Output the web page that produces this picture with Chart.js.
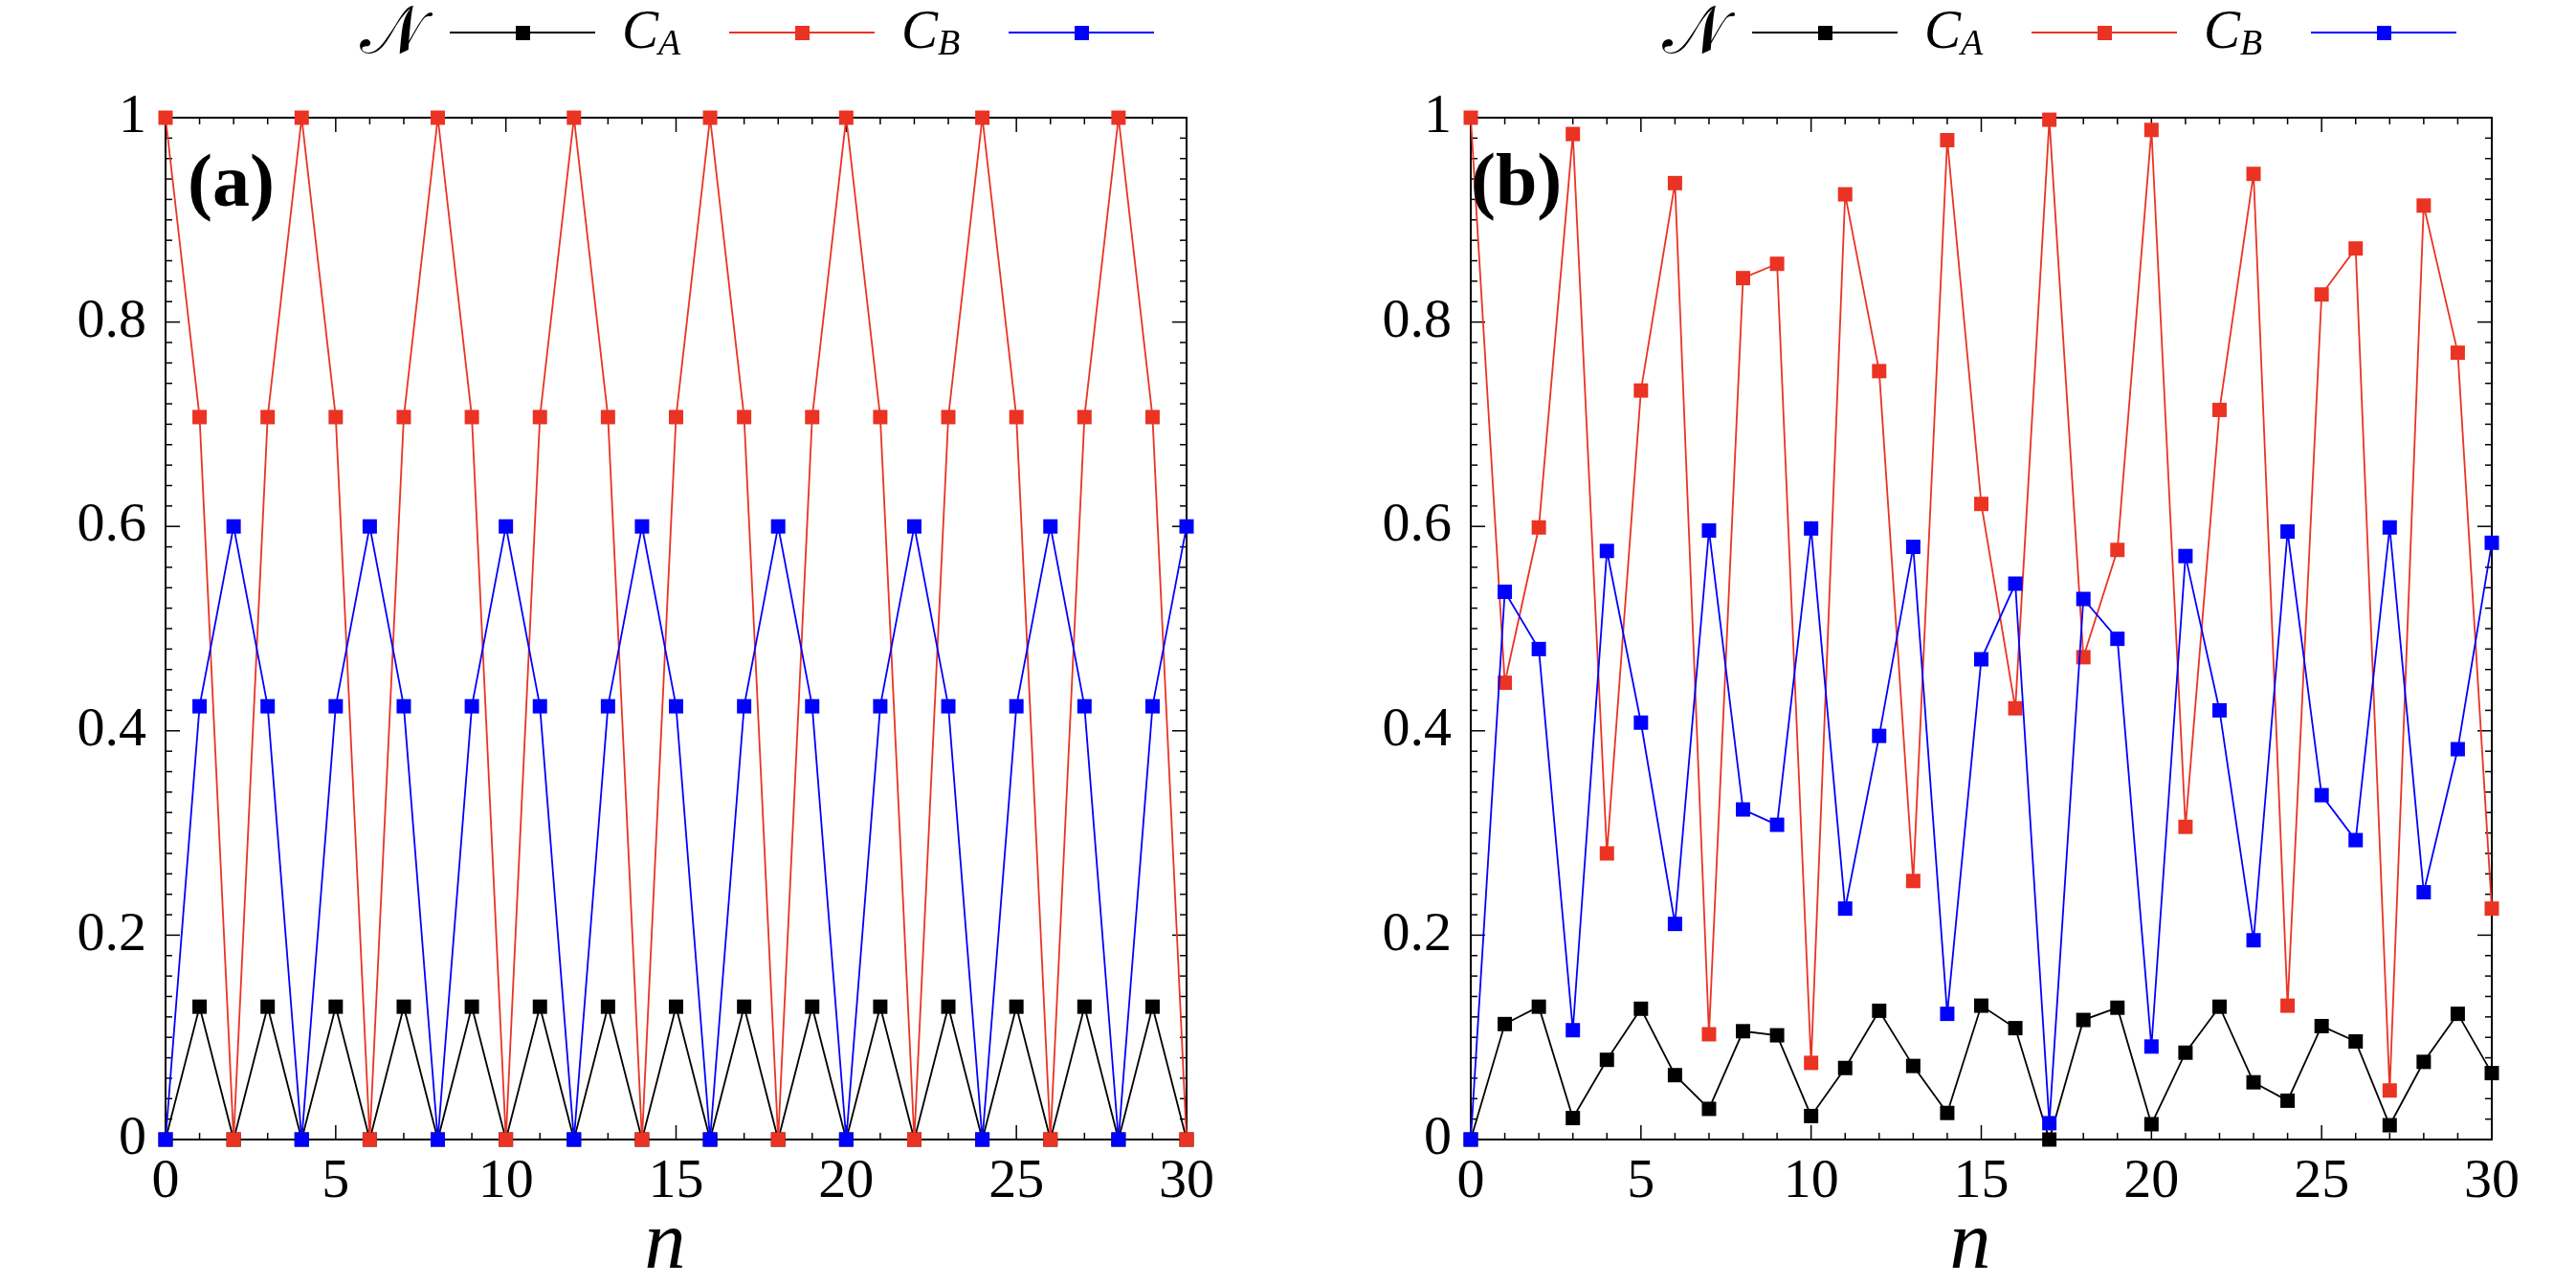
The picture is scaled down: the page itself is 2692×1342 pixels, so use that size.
<!DOCTYPE html>
<html>
<head>
<meta charset="utf-8">
<script src="https://cdn.jsdelivr.net/npm/chart.js@4.4.1/dist/chart.umd.min.js"></script>
<style>
  body { margin: 0; background: #fff; }
  #page { position: relative; width: 2692px; height: 1342px; overflow: hidden;
          font-family: "Liberation Serif", "DejaVu Serif", serif; }
  canvas { position: absolute; top: 0; }
  .txt { position: absolute; white-space: nowrap; line-height: 1; color: #000; }
  .lg { font-style: italic; font-size: 57px; }
  .lg .sub { font-size: 38px; vertical-align: -7px; }
  .cal { font-family: "DejaVu Serif", "DejaVu Sans", "Noto Sans", serif; font-style: normal; font-size: 70px; }
  .seg { position: absolute; height: 2px; }
  .mk { position: absolute; width: 15px; height: 15px; }
  .panel { font-weight: bold; font-size: 78px; }
  .xt { font-style: italic; font-size: 86px; transform: translateX(-50%); }
</style>
</head>
<body>
<div id="page">
  <canvas id="chartA" width="1346" height="1342" style="left:0"></canvas>
  <canvas id="chartB" width="1346" height="1342" style="left:1346px"></canvas>
</div>
<script>
// === Données
const nValues = [0, 1, 2, 3, 4, 5, 6, 7, 8, 9, 10, 11, 12, 13, 14, 15, 16, 17, 18, 19, 20, 21, 22, 23, 24, 25, 26, 27, 28, 29, 30];
const xTicks = [0, 5, 10, 15, 20, 25, 30];
const yTicks = [0, 0.2, 0.4, 0.6, 0.8, 1];

// panel (a)
const negA = [0, 0.13, 0, 0.13, 0, 0.13, 0, 0.13, 0, 0.13, 0, 0.13, 0, 0.13, 0, 0.13, 0, 0.13, 0, 0.13, 0, 0.13, 0, 0.13, 0, 0.13, 0, 0.13, 0, 0.13, 0];
const caA = [1, 0.707, 0, 0.707, 1, 0.707, 0, 0.707, 1, 0.707, 0, 0.707, 1, 0.707, 0, 0.707, 1, 0.707, 0, 0.707, 1, 0.707, 0, 0.707, 1, 0.707, 0, 0.707, 1, 0.707, 0];
const cbA = [0, 0.424, 0.6, 0.424, 0, 0.424, 0.6, 0.424, 0, 0.424, 0.6, 0.424, 0, 0.424, 0.6, 0.424, 0, 0.424, 0.6, 0.424, 0, 0.424, 0.6, 0.424, 0, 0.424, 0.6, 0.424, 0, 0.424, 0.6];

// panel (b)
const negB = [0, 0.113, 0.130, 0.021, 0.078, 0.128, 0.063, 0.030, 0.106, 0.102, 0.023, 0.070, 0.126, 0.072, 0.026, 0.131, 0.109, 0.000, 0.117, 0.129, 0.015, 0.085, 0.130, 0.056, 0.038, 0.111, 0.096, 0.014, 0.076, 0.123, 0.065];
const caB = [1.0, 0.447, 0.599, 0.984, 0.280, 0.733, 0.936, 0.103, 0.843, 0.857, 0.075, 0.925, 0.752, 0.253, 0.978, 0.622, 0.422, 0.998, 0.472, 0.577, 0.988, 0.306, 0.714, 0.945, 0.131, 0.827, 0.872, 0.048, 0.914, 0.770, 0.226];
const cbB = [0, 0.536, 0.480, 0.107, 0.576, 0.408, 0.211, 0.596, 0.323, 0.308, 0.598, 0.226, 0.395, 0.580, 0.123, 0.470, 0.544, 0.016, 0.529, 0.490, 0.091, 0.571, 0.420, 0.195, 0.595, 0.337, 0.293, 0.599, 0.242, 0.382, 0.584];

const BLACK = "#000000";
const RED = "#ea3323";
const BLUE = "#0000ff";
const FONT = "'Liberation Serif', 'DejaVu Serif', serif";

// cadre + graduations vers l'intérieur
const frameTicks = {
  id: "frameTicks",
  beforeDatasetsDraw(chart) {
    const { ctx, chartArea: a, scales } = chart;
    const line = (x1, y1, x2, y2) => { ctx.beginPath(); ctx.moveTo(x1, y1); ctx.lineTo(x2, y2); ctx.stroke(); };
    ctx.save();
    ctx.strokeStyle = "#000";
    ctx.lineWidth = 1.5;
    for (let i = 0; i <= 30; i++) {
      const px = scales.x.getPixelForValue(i);
      const len = i % 5 === 0 ? 15 : 7;
      line(px, a.bottom, px, a.bottom - len);
      line(px, a.top, px, a.top + len);
    }
    for (let k = 0; k <= 50; k++) {
      const py = scales.y.getPixelForValue(k / 50);
      const len = k % 10 === 0 ? 15 : 7;
      line(a.left, py, a.left + len, py);
      line(a.right, py, a.right - len, py);
    }
    ctx.lineWidth = 2;
    ctx.strokeRect(a.left, a.top, a.right - a.left, a.bottom - a.top);
    ctx.restore();
  }
};

function serie(vals, color) {
  return {
    data: vals.map((v, i) => ({ x: nValues[i], y: v })),
    borderColor: color,
    backgroundColor: color,
    borderWidth: 1.8,
    pointStyle: "rect",
    pointRadius: 10.6,
    pointBorderWidth: 0,
    clip: false,
    tension: 0
  };
}

function makeChart(id, neg, ca, cb, yWidth, padRight) {
  new Chart(document.getElementById(id).getContext("2d"), {
    type: "line",
    data: { datasets: [serie(cb, BLUE), serie(ca, RED), serie(neg, BLACK)] },
    options: {
      responsive: false,
      animation: false,
      layout: { padding: { top: 123, right: padRight, bottom: 0, left: 0 } },
      plugins: { legend: { display: false }, tooltip: { enabled: false } },
      scales: {
        x: {
          type: "linear", min: 0, max: 30,
          grid: { display: false, drawTicks: false },
          border: { display: false },
          ticks: { autoSkip: false, maxRotation: 0, padding: 10, color: "#000",
                   font: { family: FONT, size: 58 } },
          afterBuildTicks: s => { s.ticks = xTicks.map(v => ({ value: v })); },
          afterFit: s => { s.height = 151; }
        },
        y: {
          min: 0, max: 1,
          grid: { display: false, drawTicks: false },
          border: { display: false },
          ticks: { autoSkip: false, padding: 20, color: "#000",
                   font: { family: FONT, size: 58 }, callback: v => String(v) },
          afterBuildTicks: s => { s.ticks = yTicks.map(v => ({ value: v })); },
          afterFit: s => { s.width = yWidth; }
        }
      }
    },
    plugins: [frameTicks]
  });
}

makeChart("chartA", negA, caA, cbA, 173, 106);
makeChart("chartB", negB, caB, cbB, 191, 88);

// === Légende, étiquettes et titres (texte HTML)
const page = document.getElementById("page");
function addText(html, cls, left, top) {
  const el = document.createElement("div");
  el.className = "txt " + cls;
  el.innerHTML = html;
  el.style.left = left + "px";
  el.style.top = top + "px";
  page.appendChild(el);
}
function addSample(left, color) {
  const seg = document.createElement("div");
  seg.className = "seg";
  seg.style.cssText = `left:${left}px;top:33px;width:152px;background:${color}`;
  page.appendChild(seg);
  const mk = document.createElement("div");
  mk.className = "mk";
  mk.style.cssText = `left:${left + 76 - 7.5}px;top:${34 - 7.5}px;background:${color}`;
  page.appendChild(mk);
}
function makeLegend(dx) {
  addText('<span class="cal">𝒩</span>', "lg", 376 + dx, -4);
  addSample(470 + dx, BLACK);
  addText('C<span class="sub">A</span>', "lg", 650 + dx, 2);
  addSample(762 + dx, RED);
  addText('C<span class="sub">B</span>', "lg", 942 + dx, 2);
  addSample(1054 + dx, BLUE);
}
makeLegend(0);
makeLegend(1361);

addText("(a)", "panel", 196, 150);
addText("(b)", "panel", 1537, 149);
addText("n", "xt", 695, 1253);
addText("n", "xt", 2059, 1253);
</script>
</body>
</html>
